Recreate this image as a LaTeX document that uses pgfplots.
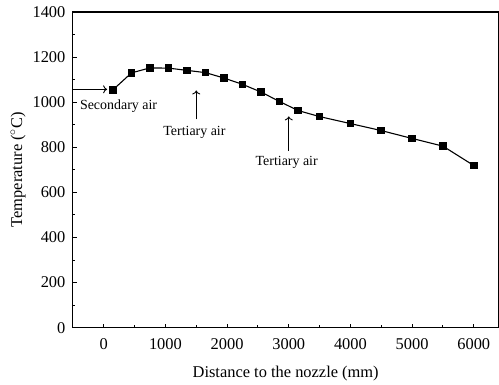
\documentclass[border=0pt]{standalone}
\usepackage{fontspec}
\setmainfont{Liberation Serif}
\usepackage{pgfplots}
\pgfplotsset{compat=1.18}
\usetikzlibrary{arrows.meta}
\begin{document}
\begin{tikzpicture}
\begin{axis}[
  scale only axis,
  width=426bp, height=316bp,
  xmin=-500, xmax=6400,
  ymin=0, ymax=1400,
  xtick={0,1000,...,6000},
  ytick={0,200,...,1400},
  minor xtick={500,1500,...,5500},
  minor ytick={100,300,...,1300},
  xtick pos=left, ytick pos=left,
  tick align=inside,
  major tick length=4bp, minor tick length=2.5bp,
  axis line style={line width=1.1pt},
  every tick/.style={line width=1pt, black},
  /pgf/number format/assume math mode=true,
  /pgf/number format/1000 sep={},
  ticklabel style={font=\fontsize{16.5}{19}\selectfont},
  label style={font=\fontsize{16.5}{19}\selectfont},
  xlabel={Distance to the nozzle (mm)},
  ylabel={Temperature ($^{\circ}$C)},
  xticklabel style={yshift=-7bp},
  yticklabel style={xshift=-4bp},
  xlabel style={yshift=-10bp},
  ylabel style={yshift=0bp},
  clip=false,
]
\addplot[black, line width=1.1pt, mark=square*, mark size=3.3pt, mark options={solid}]
coordinates {
(150,1055) (450,1130) (750,1152) (1050,1151) (1350,1141) (1650,1131)
(1950,1107) (2250,1079) (2550,1045) (2850,1003) (3150,963) (3500,936)
(4000,905) (4500,874) (5000,839) (5500,805) (6000,719)
};
\tikzset{annarrow/.style={-{To[length=4bp,width=8bp,line width=0.9pt]}, line width=0.9pt}}
\draw[annarrow] (axis cs:-500,1057) -- (axis cs:55,1057);
\draw[annarrow] (axis cs:1500,924) -- (axis cs:1500,1052);
\draw[annarrow] (axis cs:3000,784) -- (axis cs:3000,937);
\node[font=\fontsize{14}{16}\selectfont] at (axis cs:240,982) {Secondary air};
\node[font=\fontsize{14}{16}\selectfont] at (axis cs:1470,868) {Tertiary air};
\node[font=\fontsize{14}{16}\selectfont] at (axis cs:2966,732) {Tertiary air};
\end{axis}
\path (current axis.south west) ++(-73bp,-57bp);
\path (current axis.north east) ++(0,12bp);
\end{tikzpicture}
\end{document}
